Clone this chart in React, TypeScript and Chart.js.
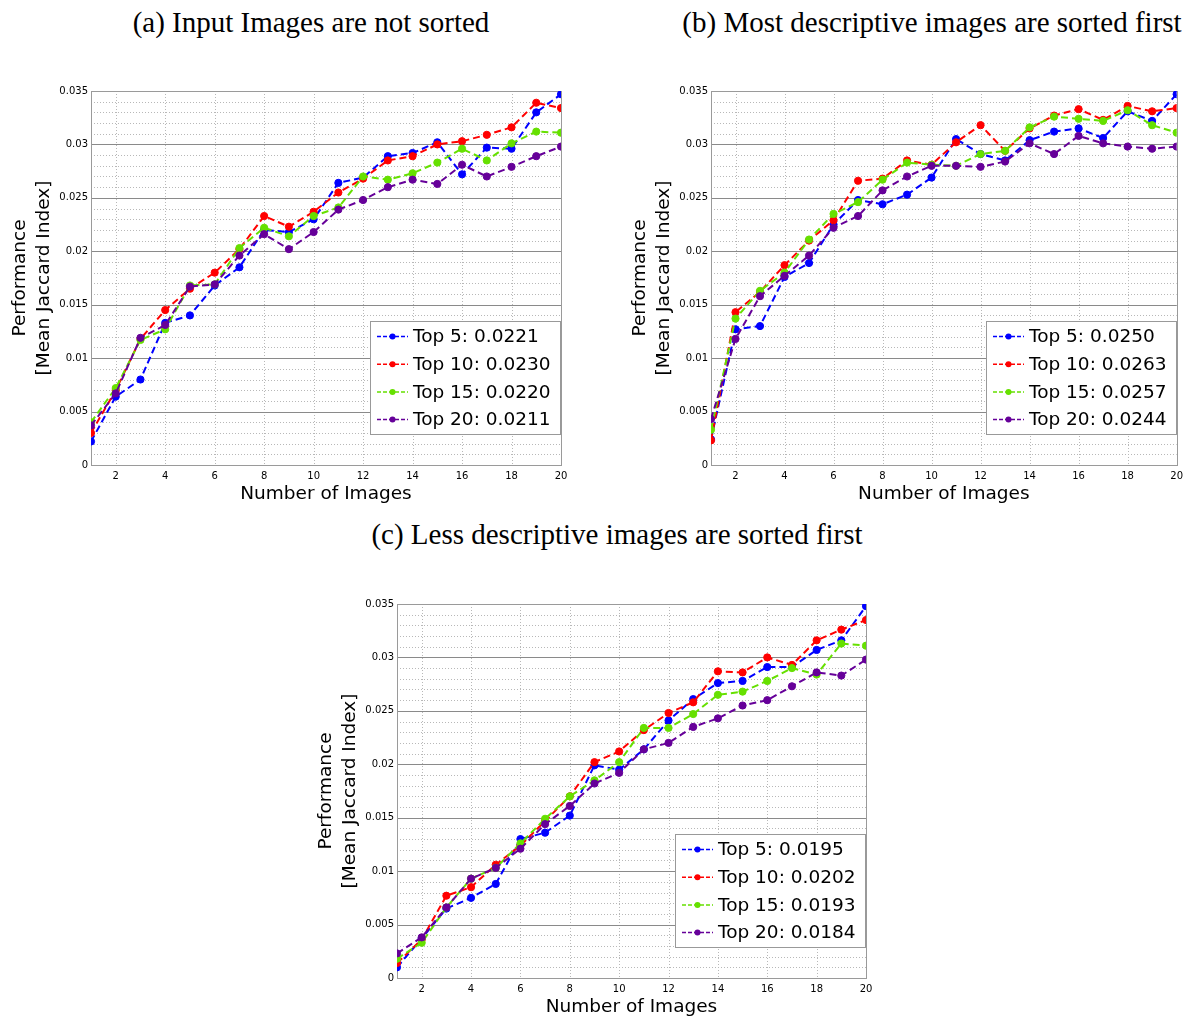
import React, { useEffect, useRef } from 'react';
import { Chart, registerables } from 'chart.js';

Chart.register(...registerables);

// ---------- data ----------
const xValues = [1, 2, 3, 4, 5, 6, 7, 8, 9, 10, 11, 12, 13, 14, 15, 16, 17, 18, 19, 20];
const xTickValues = [2, 4, 6, 8, 10, 12, 14, 16, 18, 20];
const yTickValues = [0, 0.005, 0.01, 0.015, 0.02, 0.025, 0.03, 0.035];
const yTickLabels = ['0', '0.005', '0.01', '0.015', '0.02', '0.025', '0.03', '0.035'];
const yMinorStep = 0.001;

const seriesNames = ['Top 5', 'Top 10', 'Top 15', 'Top 20'];

const captionA = '(a) Input Images are not sorted';
const captionB = '(b) Most descriptive images are sorted first';
const captionC = '(c) Less descriptive images are sorted first';

const xAxisTitle = 'Number of Images';
const yAxisTitle = ['Performance', '[Mean Jaccard Index]'];

// (a) not sorted
const top5A = [0.0022, 0.0064, 0.0080, 0.0133, 0.0140, 0.0168, 0.0185, 0.0220, 0.0218, 0.0230, 0.0264, 0.0269, 0.0289, 0.0292, 0.0302, 0.0272, 0.0297, 0.0296, 0.0330, 0.0347];
const top10A = [0.0030, 0.0070, 0.0118, 0.0145, 0.0165, 0.0180, 0.0202, 0.0233, 0.0223, 0.0237, 0.0255, 0.0268, 0.0285, 0.0289, 0.0300, 0.0303, 0.0309, 0.0316, 0.0339, 0.0334];
const top15A = [0.0040, 0.0072, 0.0117, 0.0127, 0.0168, 0.0169, 0.0203, 0.0222, 0.0214, 0.0233, 0.0241, 0.0270, 0.0267, 0.0273, 0.0283, 0.0296, 0.0285, 0.0301, 0.0312, 0.0311];
const top20A = [0.0037, 0.0067, 0.0119, 0.0131, 0.0167, 0.0169, 0.0196, 0.0216, 0.0202, 0.0218, 0.0239, 0.0248, 0.0260, 0.0267, 0.0263, 0.0281, 0.0270, 0.0279, 0.0289, 0.0298];
const scoresA = ['0.0221', '0.0230', '0.0220', '0.0211'];

// (b) most descriptive first
const top5B = [0.0024, 0.0127, 0.0130, 0.0176, 0.0189, 0.0225, 0.0248, 0.0244, 0.0253, 0.0269, 0.0305, 0.0291, 0.0285, 0.0304, 0.0312, 0.0315, 0.0306, 0.0331, 0.0322, 0.0347];
const top10B = [0.0023, 0.0143, 0.0162, 0.0187, 0.0210, 0.0229, 0.0266, 0.0268, 0.0285, 0.0281, 0.0302, 0.0318, 0.0294, 0.0315, 0.0327, 0.0333, 0.0323, 0.0336, 0.0331, 0.0334];
const top15B = [0.0033, 0.0137, 0.0163, 0.0180, 0.0211, 0.0235, 0.0246, 0.0267, 0.0283, 0.0281, 0.0280, 0.0291, 0.0294, 0.0316, 0.0326, 0.0324, 0.0322, 0.0332, 0.0318, 0.0311];
const top20B = [0.0043, 0.0118, 0.0158, 0.0177, 0.0196, 0.0222, 0.0233, 0.0257, 0.0270, 0.0280, 0.0280, 0.0279, 0.0284, 0.0301, 0.0291, 0.0308, 0.0301, 0.0298, 0.0296, 0.0298];
const scoresB = ['0.0250', '0.0263', '0.0257', '0.0244'];

// (c) less descriptive first
const top5C = [0.0010, 0.0037, 0.0065, 0.0075, 0.0088, 0.0130, 0.0136, 0.0152, 0.0199, 0.0195, 0.0214, 0.0241, 0.0261, 0.0276, 0.0278, 0.0291, 0.0291, 0.0307, 0.0316, 0.0348];
const top10C = [0.0014, 0.0036, 0.0077, 0.0085, 0.0106, 0.0124, 0.0147, 0.0170, 0.0202, 0.0212, 0.0232, 0.0248, 0.0258, 0.0287, 0.0286, 0.0300, 0.0293, 0.0316, 0.0326, 0.0335];
const top15C = [0.0018, 0.0033, 0.0066, 0.0093, 0.0103, 0.0126, 0.0149, 0.0170, 0.0185, 0.0202, 0.0234, 0.0234, 0.0247, 0.0265, 0.0268, 0.0278, 0.0290, 0.0284, 0.0313, 0.0311];
const top20C = [0.0023, 0.0038, 0.0066, 0.0093, 0.0103, 0.0121, 0.0144, 0.0161, 0.0182, 0.0192, 0.0214, 0.0220, 0.0235, 0.0243, 0.0255, 0.0260, 0.0273, 0.0286, 0.0283, 0.0298];
const scoresC = ['0.0195', '0.0202', '0.0193', '0.0184'];

// ---------- styles ----------
const seriesColors = ['#0000ff', '#ff0000', '#66e000', '#660099'];
const SANS = 'DejaVu Sans';

const gridPlugin = {
  id: 'matlabGrid',
  beforeDatasetsDraw(chart: any) {
    const { ctx, chartArea: a, scales } = chart;
    const x = scales.x;
    const y = scales.y;
    ctx.save();
    ctx.lineWidth = 1;
    // minor horizontal dotted
    ctx.strokeStyle = '#b8b8b8';
    ctx.setLineDash([1, 2]);
    const n = Math.round(0.035 / yMinorStep);
    for (let k = 1; k < n; k++) {
      const v = k * yMinorStep;
      const py = Math.round(y.getPixelForValue(v)) + 0.5;
      ctx.beginPath();
      ctx.moveTo(a.left, py);
      ctx.lineTo(a.right, py);
      ctx.stroke();
    }
    // vertical dotted
    xTickValues.forEach((v) => {
      if (v >= 20) return;
      const px = Math.round(x.getPixelForValue(v)) + 0.5;
      ctx.beginPath();
      ctx.moveTo(px, a.top);
      ctx.lineTo(px, a.bottom);
      ctx.stroke();
    });
    // major horizontal solid
    ctx.setLineDash([]);
    ctx.strokeStyle = '#8a8a8a';
    yTickValues.slice(1, -1).forEach((v) => {
      const py = Math.round(y.getPixelForValue(v)) + 0.5;
      ctx.beginPath();
      ctx.moveTo(a.left, py);
      ctx.lineTo(a.right, py);
      ctx.stroke();
    });
    // box
    ctx.strokeStyle = '#9a9a9a';
    ctx.strokeRect(Math.round(a.left) + 0.5, Math.round(a.top) + 0.5, Math.round(a.right - a.left), Math.round(a.bottom - a.top));
    ctx.restore();
  },
};

const legendPlugin = {
  id: 'boxLegend',
  afterDatasetsDraw(chart: any) {
    const { ctx, chartArea: a } = chart;
    const W = 191;
    const H = 114;
    const left = Math.round(a.right - W);
    const top = Math.round(a.bottom - 30 - H);
    ctx.save();
    ctx.fillStyle = '#ffffff';
    ctx.fillRect(left, top, W, H);
    ctx.strokeStyle = '#999999';
    ctx.lineWidth = 1;
    ctx.strokeRect(left + 0.5, top + 0.5, W - 1, H - 1);
    chart.data.datasets.forEach((ds: any, i: number) => {
      const yy = top + 15.5 + i * 27.7;
      ctx.strokeStyle = ds.borderColor;
      ctx.lineWidth = 1.5;
      ctx.setLineDash([4, 2]);
      ctx.beginPath();
      ctx.moveTo(left + 7, yy);
      ctx.lineTo(left + 38, yy);
      ctx.stroke();
      ctx.setLineDash([]);
      ctx.fillStyle = ds.borderColor;
      ctx.beginPath();
      ctx.arc(left + 22.5, yy, 3, 0, Math.PI * 2);
      ctx.fill();
      ctx.fillStyle = '#000000';
      ctx.font = `18.5px "${SANS}"`;
      ctx.textBaseline = 'middle';
      ctx.textAlign = 'left';
      ctx.fillText(ds.label, left + 43, yy + 1);
    });
    ctx.restore();
  },
};

type PanelProps = {
  series: number[][];
  scores: string[];
  left: number;
  top: number;
  width: number;
  height: number;
  padRight: number;
};

function Panel({ series, scores, left, top, width, height, padRight }: PanelProps) {
  const ref = useRef<HTMLCanvasElement>(null);
  useEffect(() => {
    const chart = new Chart(ref.current as HTMLCanvasElement, {
      type: 'line',
      data: {
        datasets: series.map((s, i) => ({
          label: `${seriesNames[i]}: ${scores[i]}`,
          data: xValues.map((x, j) => ({ x, y: s[j] })),
          borderColor: seriesColors[i],
          backgroundColor: seriesColors[i],
          pointBackgroundColor: seriesColors[i],
          pointBorderColor: seriesColors[i],
          borderWidth: 2,
          borderDash: [7, 4],
          pointRadius: 3.6,
          pointBorderWidth: 1,
          pointStyle: 'circle',
          tension: 0,
          fill: false,
          order: 4 - i,
        })),
      },
      options: {
        responsive: false,
        animation: false,
        devicePixelRatio: 1,
        layout: { padding: { left: 0, top: 31, right: padRight, bottom: 0 } },
        plugins: {
          legend: { display: false },
          tooltip: { enabled: false },
        },
        scales: {
          x: {
            type: 'linear',
            min: 1,
            max: 20,
            grid: { display: false, drawTicks: false },
            border: { display: false },
            afterBuildTicks: (s: any) => {
              s.ticks = xTickValues.map((v) => ({ value: v }));
            },
            afterFit: (s: any) => {
              s.height = 42;
            },
            ticks: {
              font: { family: SANS, size: 10 },
              color: '#000',
              padding: 5,
              maxRotation: 0,
              autoSkip: false,
              callback: (v: any) => String(v),
            },
            title: {
              display: true,
              text: xAxisTitle,
              color: '#000',
              font: { family: SANS, size: 18.5, lineHeight: 1.3 },
              padding: { top: 0, bottom: 1 },
            },
          },
          y: {
            type: 'linear',
            min: 0,
            max: 0.035,
            grid: { display: false, drawTicks: false },
            border: { display: false },
            afterBuildTicks: (s: any) => {
              s.ticks = yTickValues.map((v) => ({ value: v }));
            },
            afterFit: (s: any) => {
              s.width = 91;
            },
            ticks: {
              font: { family: SANS, size: 10 },
              color: '#000',
              padding: 3,
              autoSkip: false,
              callback: (_v: any, i: number) => yTickLabels[i],
            },
            title: {
              display: true,
              text: yAxisTitle,
              color: '#000',
              font: { family: SANS, size: 18.5, lineHeight: 1.3 },
              padding: { top: 8, bottom: 0 },
            },
          },
        },
      } as any,
      plugins: [gridPlugin, legendPlugin],
    });
    return () => chart.destroy();
  }, []);
  return (
    <canvas
      ref={ref}
      width={width}
      height={height}
      style={{ position: 'absolute', left, top, width, height }}
    />
  );
}

const captionStyle = (cx: number, cy: number): React.CSSProperties => ({
  position: 'absolute',
  left: cx - 400,
  top: cy - 22,
  width: 800,
  height: 44,
  lineHeight: '44px',
  textAlign: 'center',
  whiteSpace: 'nowrap',
  fontFamily: '"Liberation Serif", "Times New Roman", serif',
  fontSize: 29,
  color: '#000',
});

export default function App() {
  return (
    <div
      style={{
        position: 'absolute',
        left: 0,
        top: 0,
        width: 1188,
        height: 1017,
        overflow: 'hidden',
        background: '#ffffff',
      }}
    >
      <div style={captionStyle(311, 22)}>{captionA}</div>
      <div style={captionStyle(932, 22)}>{captionB}</div>
      <div style={captionStyle(617, 534)}>{captionC}</div>
      <Panel series={[top5A, top10A, top15A, top20A]} scores={scoresA} left={0} top={60} width={600} height={447} padRight={39} />
      <Panel series={[top5B, top10B, top15B, top20B]} scores={scoresB} left={620} top={60} width={568} height={447} padRight={7} />
      <Panel series={[top5C, top10C, top15C, top20C]} scores={scoresC} left={306} top={573} width={600} height={447} padRight={40} />
    </div>
  );
}
